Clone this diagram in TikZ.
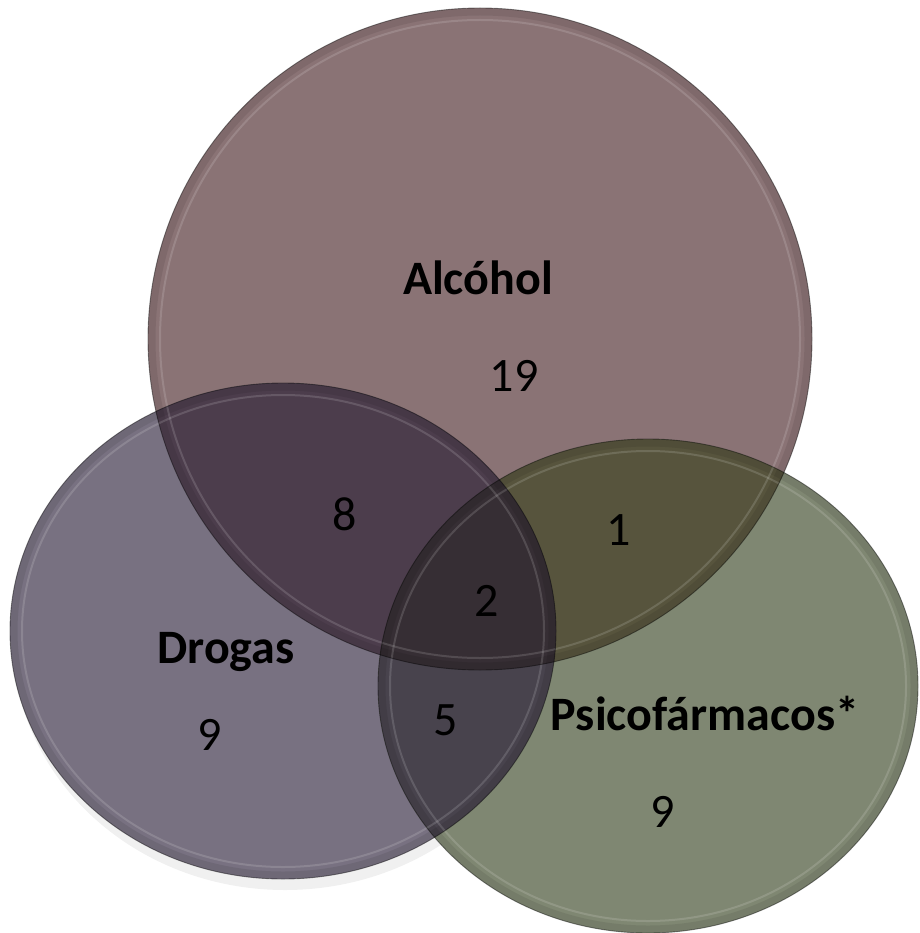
\documentclass[tikz,border=0pt]{standalone}
\usepackage{fontspec}
\setmainfont{Carlito}
\definecolor{colA}{RGB}{138,115,117}
\definecolor{colD}{RGB}{120,113,129}
\definecolor{colP}{RGB}{127,135,114}
\definecolor{colAD}{RGB}{76,61,76}
\definecolor{colAP}{RGB}{87,84,61}
\definecolor{colDP}{RGB}{72,67,77}
\definecolor{colADP}{RGB}{54,46,52}
\tikzset{
  rim/.style={draw=black, draw opacity=0.45, line width=0.9pt},
  band/.style={draw=black, draw opacity=0.08, line width=7pt},
  glint/.style={draw=white, draw opacity=0.14, line width=2pt},
  lbl/.style={font=\fontsize{48}{50}\selectfont\bfseries, inner sep=0pt},
  num/.style={font=\fontsize{48}{50}\selectfont, inner sep=0pt}
}
\def\circA{(480,339) ellipse [x radius=332, y radius=331]}
\def\circD{(283,631) ellipse [x radius=273, y radius=248]}
\def\circP{(648,686) ellipse [x radius=270, y radius=247]}
\begin{document}
\begin{tikzpicture}[x=1pt,y=-1pt]
\useasboundingbox (0,0) rectangle (919,933);
% soft shadow under Drogas
\fill[black, opacity=0.06] (285,640) ellipse [x radius=272, y radius=250];
% base fills
\fill[colA] \circA;
\fill[colD] \circD;
\fill[colP] \circP;
% pairwise overlaps
\begin{scope}\clip \circA; \fill[colAD] \circD; \end{scope}
\begin{scope}\clip \circA; \fill[colAP] \circP; \end{scope}
\begin{scope}\clip \circD; \fill[colDP] \circP; \end{scope}
% triple overlap
\begin{scope}\clip \circA; \clip \circD; \fill[colADP] \circP; \end{scope}
% bevel rings
\path[band] (480,339) ellipse [x radius=328, y radius=327];
\path[band] (283,631) ellipse [x radius=269, y radius=244];
\path[band] (648,686) ellipse [x radius=266, y radius=243];
\path[glint] (480,339) ellipse [x radius=320, y radius=319];
\path[glint] (283,631) ellipse [x radius=261, y radius=236];
\path[glint] (648,686) ellipse [x radius=258, y radius=235];
\path[rim] \circA;
\path[rim] \circD;
\path[rim] \circP;
% labels
\node[lbl] (alc) at (478,278) {Alcóhol};
\node[num] (n19) at (514,376) {19};
\node[num] (n8) at (345,514) {8};
\node[num] (n1) at (619,530) {1};
\node[num] (n2) at (487,601) {2};
\node[lbl] (dro) at (226,652) {Drogas};
\node[num] (n9d) at (210,735) {9};
\node[num] (n5) at (446,720) {5};
\node[lbl] (psi) at (705,713) {Psicofármacos*};
\node[num] (n9p) at (663,812) {9};
\end{tikzpicture}
\end{document}
